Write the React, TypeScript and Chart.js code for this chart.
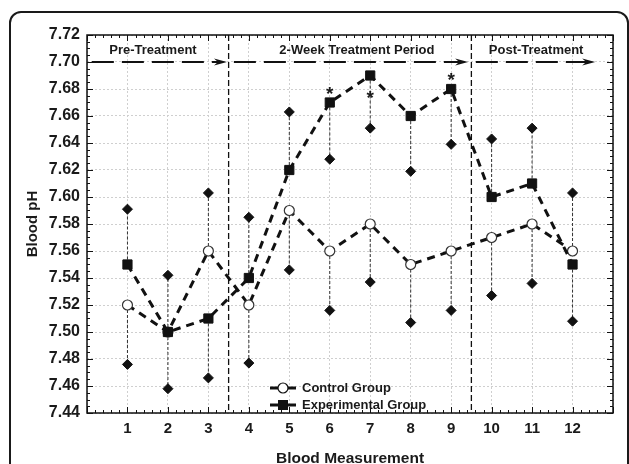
import React, { useEffect, useRef } from "react";
import { Chart, registerables } from "chart.js";

Chart.register(...registerables);

const FONT = "'Liberation Sans', Arial, Helvetica, sans-serif";

// Data
const measurements = [1, 2, 3, 4, 5, 6, 7, 8, 9, 10, 11, 12];
const controlPH = [7.52, 7.5, 7.56, 7.52, 7.59, 7.56, 7.58, 7.55, 7.56, 7.57, 7.58, 7.56];
const experimentalPH = [7.55, 7.5, 7.51, 7.54, 7.62, 7.67, 7.69, 7.66, 7.68, 7.6, 7.61, 7.55];
// end of each one-sided error bar (the diamonds)
const controlErrEnd = [7.476, 7.458, 7.603, 7.477, 7.546, 7.516, 7.537, 7.507, 7.516, 7.527, 7.536, 7.603];
const experimentalErrEnd = [7.591, 7.542, 7.466, 7.585, 7.663, 7.628, 7.651, 7.619, 7.639, 7.643, 7.651, 7.508];
const significant = [6, 7, 9];
const phaseNames = ["Pre-Treatment", "2-Week Treatment Period", "Post-Treatment"];
const phaseBreaks = [3.5, 9.5];
const seriesNames = ["Control Group", "Experimental Group"];

const Y_MIN = 7.44;
const Y_MAX = 7.72;

const overlayPlugin = {
  id: "overlay",
  beforeDatasetsDraw(chart: any) {
    const { ctx, chartArea: a, scales } = chart;
    const x = scales.x;
    const y = scales.y;
    ctx.save();

    // dotted error bars
    ctx.strokeStyle = "#333";
    ctx.lineWidth = 1;
    ctx.setLineDash([3, 2]);
    measurements.forEach((m, i) => {
      const px = x.getPixelForValue(m);
      [
        [controlPH[i], controlErrEnd[i]],
        [experimentalPH[i], experimentalErrEnd[i]],
      ].forEach(([v, e]) => {
        ctx.beginPath();
        ctx.moveTo(px, y.getPixelForValue(v));
        ctx.lineTo(px, y.getPixelForValue(e));
        ctx.stroke();
      });
    });

    // phase dividers
    ctx.strokeStyle = "#111";
    ctx.lineWidth = 1.3;
    ctx.setLineDash([6, 3]);
    phaseBreaks.forEach((b) => {
      const px = x.getPixelForValue(b);
      ctx.beginPath();
      ctx.moveTo(px, a.top);
      ctx.lineTo(px, a.bottom);
      ctx.stroke();
    });

    // phase arrows
    const spans = [
      [0.12, 3.46],
      [3.63, 9.42],
      [9.61, 12.56],
    ];
    const ay = y.getPixelForValue(7.7);
    ctx.fillStyle = "#111";
    ctx.lineWidth = 1.8;
    spans.forEach(([s, e]) => {
      const x0 = x.getPixelForValue(s);
      const x1 = x.getPixelForValue(e);
      ctx.setLineDash([22, 8]);
      ctx.beginPath();
      ctx.moveTo(x0, ay);
      ctx.lineTo(x1 - 9, ay);
      ctx.stroke();
      ctx.setLineDash([]);
      ctx.beginPath();
      ctx.moveTo(x1, ay);
      ctx.lineTo(x1 - 13, ay - 3.5);
      ctx.lineTo(x1 - 9, ay);
      ctx.lineTo(x1 - 13, ay + 3.5);
      ctx.closePath();
      ctx.fill();
    });
    ctx.restore();
  },
  afterDraw(chart: any) {
    const { ctx, chartArea: a, scales } = chart;
    const x = scales.x;
    const y = scales.y;
    ctx.save();
    ctx.setLineDash([]);

    // plot frame
    ctx.strokeStyle = "#111";
    ctx.lineWidth = 1.5;
    ctx.strokeRect(a.left, a.top, a.right - a.left, a.bottom - a.top);

    // inward ticks
    ctx.lineWidth = 1;
    for (let k = 0; k <= 56; k++) {
      const py = Math.round(y.getPixelForValue(Y_MIN + k * 0.005)) + 0.5;
      const len = k % 4 === 0 ? 6 : 3;
      ctx.beginPath();
      ctx.moveTo(a.left, py);
      ctx.lineTo(a.left + len, py);
      ctx.moveTo(a.right, py);
      ctx.lineTo(a.right - len, py);
      ctx.stroke();
    }
    for (let k = 0; k <= 65; k++) {
      const px = Math.round(x.getPixelForValue(k * 0.2)) + 0.5;
      const len = k % 5 === 0 ? 6 : 3;
      ctx.beginPath();
      ctx.moveTo(px, a.bottom);
      ctx.lineTo(px, a.bottom - len);
      ctx.moveTo(px, a.top);
      ctx.lineTo(px, a.top + len);
      ctx.stroke();
    }

    // phase labels
    ctx.fillStyle = "#1a1a1a";
    ctx.font = `bold 13px ${FONT}`;
    ctx.textAlign = "center";
    ctx.textBaseline = "middle";
    const labelX = [1.63, 6.67, 11.1];
    phaseNames.forEach((name, i) => {
      ctx.fillText(name, x.getPixelForValue(labelX[i]), a.top + 15);
    });

    // significance asterisks
    ctx.font = `bold 19px ${FONT}`;
    ctx.textBaseline = "alphabetic";
    significant.forEach((m) => {
      const py = y.getPixelForValue(experimentalPH[m - 1]);
      const cy = m === 7 ? py + 17 : py - 14;
      ctx.fillText("*", x.getPixelForValue(m), cy + 11);
    });

    // legend
    const lx = a.left + 183;
    const rows = [a.bottom - 25, a.bottom - 8];
    ctx.font = `bold 13px ${FONT}`;
    ctx.textAlign = "left";
    ctx.textBaseline = "middle";
    rows.forEach((ly, i) => {
      ctx.strokeStyle = "#111";
      ctx.lineWidth = 3;
      ctx.beginPath();
      ctx.moveTo(lx, ly);
      ctx.lineTo(lx + 26, ly);
      ctx.stroke();
      if (i === 0) {
        ctx.fillStyle = "#fff";
        ctx.lineWidth = 1.2;
        ctx.beginPath();
        ctx.arc(lx + 13, ly, 5, 0, Math.PI * 2);
        ctx.fill();
        ctx.stroke();
      } else {
        ctx.fillStyle = "#111";
        ctx.fillRect(lx + 8, ly - 5, 10, 10);
      }
      ctx.fillStyle = "#1a1a1a";
      ctx.fillText(seriesNames[i], lx + 32, ly + 0.5);
    });
    ctx.restore();
  },
};

const App: React.FC = () => {
  const chartRef = useRef<HTMLCanvasElement>(null);
  const chartInstance = useRef<Chart | null>(null);

  useEffect(() => {
    if (!chartRef.current) return;
    if (chartInstance.current) chartInstance.current.destroy();

    const toPoints = (vals: number[]) => measurements.map((m, i) => ({ x: m, y: vals[i] }));
    const lineStyle = {
      borderColor: "#111",
      borderWidth: 3,
      borderDash: [8, 6],
      fill: false,
      tension: 0,
      showLine: true,
    };

    chartInstance.current = new Chart(chartRef.current, {
      type: "line",
      data: {
        datasets: [
          {
            ...lineStyle,
            label: seriesNames[1],
            data: toPoints(experimentalPH),
            pointStyle: "rect",
            pointRadius: 6.5,
            pointBackgroundColor: "#111",
            pointBorderColor: "#111",
            pointBorderWidth: 1,
          },
          {
            ...lineStyle,
            label: seriesNames[0],
            data: toPoints(controlPH),
            pointStyle: "circle",
            pointRadius: 5,
            pointBackgroundColor: "#fff",
            pointBorderColor: "#333",
            pointBorderWidth: 1.2,
          },
          {
            label: "Control error",
            data: toPoints(controlErrEnd),
            showLine: false,
            pointStyle: "rectRot",
            pointRadius: 5,
            pointBackgroundColor: "#111",
            pointBorderColor: "#111",
          },
          {
            label: "Experimental error",
            data: toPoints(experimentalErrEnd),
            showLine: false,
            pointStyle: "rectRot",
            pointRadius: 5,
            pointBackgroundColor: "#111",
            pointBorderColor: "#111",
          },
        ],
      } as any,
      options: {
        animation: false,
        responsive: true,
        maintainAspectRatio: false,
        layout: { padding: { left: 0, right: 16, top: 35, bottom: 0 } },
        scales: {
          x: {
            type: "linear",
            min: 0,
            max: 13,
            afterFit: (scale: any) => {
              scale.height = 51;
            },
            ticks: {
              stepSize: 1,
              autoSkip: false,
              maxRotation: 0,
              padding: 7,
              color: "#1a1a1a",
              font: { family: FONT, size: 15, weight: "bold" },
              callback: (v: any) => (v >= 1 && v <= 12 ? String(v) : ""),
            },
            grid: { color: "#cfcfcf", lineWidth: 1, drawTicks: false },
            border: { display: false, dash: [2, 2] },
            title: {
              display: true,
              text: "Blood Measurement",
              color: "#1a1a1a",
              font: { family: FONT, size: 15.5, weight: "bold", lineHeight: 1 },
              padding: { top: 0, bottom: -2 },
            },
          },
          y: {
            min: Y_MIN,
            max: Y_MAX,
            afterFit: (scale: any) => {
              scale.width = 87;
            },
            ticks: {
              stepSize: 0.02,
              padding: 7,
              color: "#1a1a1a",
              font: { family: FONT, size: 16, weight: "bold" },
              callback: (v: any) => Number(v).toFixed(2),
            },
            grid: { color: "#cfcfcf", lineWidth: 1, drawTicks: false },
            border: { display: false, dash: [2, 2] },
            title: {
              display: true,
              text: "Blood pH",
              color: "#1a1a1a",
              font: { family: FONT, size: 15, weight: "bold", lineHeight: 1 },
              padding: { top: 25, bottom: 0 },
            },
          },
        },
        plugins: {
          legend: { display: false },
          tooltip: { enabled: false },
        },
      } as any,
      plugins: [overlayPlugin],
    });

    return () => {
      if (chartInstance.current) {
        chartInstance.current.destroy();
        chartInstance.current = null;
      }
    };
  }, []);

  return (
    <>
      <div style={{ position: "fixed", left: 0, top: 0, width: 629, height: 464, background: "#fff" }}>
        <canvas ref={chartRef} />
      </div>
      <div
        style={{
          position: "fixed",
          left: 9,
          top: 11,
          width: 620,
          height: 520,
          border: "2px solid #1a1a1a",
          borderRadius: 12,
          boxSizing: "border-box",
          pointerEvents: "none",
        }}
      />
    </>
  );
};

export default App;
